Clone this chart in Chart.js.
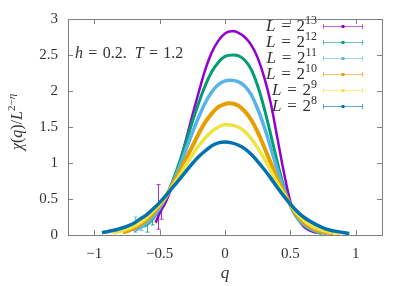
<!DOCTYPE html>
<html>
<head>
<meta charset="utf-8">
<script src="https://cdn.jsdelivr.net/npm/chart.js@4.4.1/dist/chart.umd.min.js"></script>
<style>
  html, body { margin: 0; padding: 0; background: #fff; }
  #caja { width: 411px; height: 286px; }
</style>
</head>
<body>
<div id="caja"><canvas id="grafica" width="411" height="286"></canvas></div>
<script>
// Datos: q y chi(q)/L^(2-eta) para cada tamaño L
const etiquetas = ['13', '12', '11', '10', '9', '8'];
const colores = ['#9400d3', '#009e73', '#56b4e9', '#e69f00', '#f0e442', '#0072b2'];

const qL13 = [-0.53, -0.5, -0.45, -0.4, -0.35, -0.3, -0.25, -0.2, -0.15, -0.1, -0.05, 0, 0.05, 0.07, 0.1, 0.15, 0.2, 0.25, 0.3, 0.35, 0.4, 0.45, 0.5, 0.55, 0.6, 0.65, 0.7];
const chiL13 = [0.17, 0.30, 0.47, 0.70, 0.98, 1.31, 1.66, 1.99, 2.30, 2.54, 2.70, 2.80, 2.83, 2.83, 2.81, 2.75, 2.64, 2.46, 2.19, 1.83, 1.35, 0.87, 0.46, 0.25, 0.12, 0.06, 0.03];

const qL12 = [-0.62, -0.6, -0.55, -0.5, -0.45, -0.4, -0.35, -0.3, -0.25, -0.2, -0.15, -0.1, -0.05, 0, 0.06, 0.1, 0.15, 0.2, 0.25, 0.3, 0.35, 0.4, 0.45, 0.5, 0.55, 0.6, 0.65, 0.7, 0.74];
const chiL12 = [0.12, 0.14, 0.23, 0.36, 0.53, 0.75, 1.00, 1.28, 1.57, 1.84, 2.08, 2.27, 2.40, 2.48, 2.50, 2.49, 2.43, 2.30, 2.07, 1.76, 1.39, 1.01, 0.67, 0.40, 0.24, 0.14, 0.08, 0.04, 0.02];

const qL11 = [-0.7, -0.65, -0.6, -0.55, -0.5, -0.45, -0.4, -0.35, -0.3, -0.25, -0.2, -0.15, -0.1, -0.05, 0, 0.04, 0.1, 0.15, 0.2, 0.25, 0.3, 0.35, 0.4, 0.45, 0.5, 0.55, 0.6, 0.65, 0.7, 0.78];
const chiL11 = [0.06, 0.10, 0.16, 0.25, 0.375, 0.53, 0.72, 0.94, 1.18, 1.42, 1.64, 1.84, 1.99, 2.09, 2.14, 2.15, 2.13, 2.07, 1.95, 1.75, 1.50, 1.21, 0.91, 0.64, 0.41, 0.25, 0.15, 0.09, 0.05, 0.02];

const qL10 = [-0.78, -0.75, -0.7, -0.65, -0.6, -0.55, -0.5, -0.45, -0.4, -0.35, -0.3, -0.25, -0.2, -0.15, -0.1, -0.05, 0, 0.03, 0.1, 0.15, 0.2, 0.25, 0.3, 0.35, 0.4, 0.45, 0.5, 0.55, 0.6, 0.65, 0.7, 0.75, 0.8, 0.83];
const chiL10 = [0.04, 0.05, 0.09, 0.14, 0.21, 0.30, 0.41, 0.54, 0.70, 0.87, 1.05, 1.23, 1.41, 1.57, 1.69, 1.78, 1.82, 1.83, 1.80, 1.72, 1.60, 1.43, 1.22, 1.00, 0.78, 0.59, 0.42, 0.28, 0.18, 0.11, 0.07, 0.04, 0.03, 0.02];

const qL9 = [-0.86, -0.8, -0.75, -0.7, -0.65, -0.6, -0.55, -0.5, -0.45, -0.4, -0.35, -0.3, -0.25, -0.2, -0.15, -0.1, -0.05, 0, 0.02, 0.1, 0.15, 0.2, 0.25, 0.3, 0.35, 0.4, 0.45, 0.5, 0.55, 0.6, 0.65, 0.7, 0.75, 0.8, 0.88];
const chiL9 = [0.03, 0.05, 0.08, 0.12, 0.17, 0.24, 0.33, 0.43, 0.54, 0.68, 0.82, 0.97, 1.11, 1.24, 1.35, 1.44, 1.50, 1.53, 1.53, 1.50, 1.44, 1.34, 1.21, 1.06, 0.89, 0.72, 0.57, 0.42, 0.30, 0.21, 0.14, 0.09, 0.06, 0.04, 0.02];

const qL8 = [-0.94, -0.9, -0.85, -0.8, -0.75, -0.7, -0.65, -0.6, -0.55, -0.5, -0.45, -0.4, -0.35, -0.3, -0.25, -0.2, -0.15, -0.1, -0.05, 0, 0.05, 0.1, 0.15, 0.2, 0.25, 0.3, 0.35, 0.4, 0.45, 0.5, 0.55, 0.6, 0.65, 0.7, 0.75, 0.8, 0.85, 0.9, 0.95];
const chiL8 = [0.035, 0.045, 0.065, 0.09, 0.12, 0.16, 0.22, 0.28, 0.36, 0.45, 0.55, 0.66, 0.77, 0.88, 0.99, 1.09, 1.17, 1.24, 1.28, 1.29, 1.28, 1.25, 1.20, 1.12, 1.02, 0.91, 0.79, 0.66, 0.54, 0.43, 0.33, 0.25, 0.19, 0.14, 0.10, 0.07, 0.05, 0.035, 0.02];

// Barras de error visibles en la cola izquierda (serie, q, mínimo, máximo)
const errSerie = [0, 0, 1, 1, 2, 2];
const errQ = [-0.515, -0.49, -0.6, -0.56, -0.69, -0.64];
const errMin = [0.08, 0.22, 0.04, 0.14, 0.04, 0.06];
const errMax = [0.70, 0.40, 0.28, 0.30, 0.25, 0.16];

const ticksX = [-1, -0.5, 0, 0.5, 1];
const ticksY = [0, 0.5, 1, 1.5, 2, 2.5, 3];

const seriesQ = [qL13, qL12, qL11, qL10, qL9, qL8];
const seriesChi = [chiL13, chiL12, chiL11, chiL10, chiL9, chiL8];
const grosores = [2.5, 3, 3.5, 4, 3.5, 3.5];

const FUENTE = '"Liberation Serif", "DejaVu Serif", serif';
const GRIS = '#333';
const IGUAL = '\u2004=\u2004';

function aPuntos(qs, ys) {
  return qs.map((q, i) => ({ x: q, y: ys[i] }));
}

const datasets = etiquetas.map((e, i) => ({
  label: 'L = 2^' + e,
  data: aPuntos(seriesQ[i], seriesChi[i]),
  borderColor: colores[i],
  backgroundColor: colores[i],
  borderWidth: grosores[i],
  pointRadius: 0,
  cubicInterpolationMode: 'monotone',
  fill: false,
  order: 5 - i   // L = 2^8 queda encima, como en gnuplot
}));

function menos(v) {
  return String(v).replace('-', '\u2212');
}

// Texto con partes en cursiva y superíndices
function textoRico(ctx, partes, x, y, alinear, tam) {
  const tamSup = Math.round(tam * 0.7);
  let ancho = 0;
  partes.forEach(p => {
    ctx.font = (p.it ? 'italic ' : '') + (p.sup ? tamSup : tam) + 'px ' + FUENTE;
    p.w = ctx.measureText(p.t).width;
    ancho += p.w;
  });
  let cx = alinear === 'right' ? x - ancho : alinear === 'center' ? x - ancho / 2 : x;
  ctx.textBaseline = 'alphabetic';
  ctx.textAlign = 'left';
  partes.forEach(p => {
    ctx.font = (p.it ? 'italic ' : '') + (p.sup ? tamSup : tam) + 'px ' + FUENTE;
    ctx.fillText(p.t, cx, p.sup ? y - tam * 0.42 : y);
    cx += p.w;
  });
}

const decoracion = {
  id: 'decoracion',
  beforeDatasetsDraw(chart) {
    // barras de error debajo de las curvas
    const ctx = chart.ctx;
    const sx = chart.scales.x, sy = chart.scales.y;
    ctx.save();
    ctx.lineWidth = 1;
    errQ.forEach((q, i) => {
      const px = Math.round(sx.getPixelForValue(q)) + 0.5;
      const y1 = sy.getPixelForValue(errMin[i]);
      const y2 = sy.getPixelForValue(errMax[i]);
      ctx.strokeStyle = colores[errSerie[i]];
      ctx.globalAlpha = 0.8;
      ctx.beginPath();
      ctx.moveTo(px, y1); ctx.lineTo(px, y2);
      ctx.moveTo(px - 2, y1); ctx.lineTo(px + 2, y1);
      ctx.moveTo(px - 2, y2); ctx.lineTo(px + 2, y2);
      ctx.stroke();
    });
    ctx.restore();
  },
  afterDraw(chart) {
    const ctx = chart.ctx;
    const a = chart.chartArea;
    const sx = chart.scales.x, sy = chart.scales.y;
    ctx.save();

    // Marco y marcas hacia dentro en los cuatro lados
    ctx.strokeStyle = '#808080';
    ctx.lineWidth = 1;
    ctx.strokeRect(Math.round(a.left) + 0.5, Math.round(a.top) + 0.5, Math.round(a.right - a.left), Math.round(a.bottom - a.top));
    ctx.beginPath();
    ticksX.forEach(t => {
      const px = Math.round(sx.getPixelForValue(t)) + 0.5;
      ctx.moveTo(px, a.bottom); ctx.lineTo(px, a.bottom - 5);
      ctx.moveTo(px, a.top); ctx.lineTo(px, a.top + 5);
    });
    ticksY.forEach(t => {
      const py = Math.round(sy.getPixelForValue(t)) + 0.5;
      ctx.moveTo(a.left, py); ctx.lineTo(a.left + 5, py);
      ctx.moveTo(a.right, py); ctx.lineTo(a.right - 5, py);
    });
    ctx.stroke();

    ctx.fillStyle = GRIS;
    // Anotación
    textoRico(ctx, [{ t: 'h', it: true }, { t: IGUAL + '0.2.\u2002' }, { t: 'T', it: true }, { t: IGUAL + '1.2' }], 75, 58, 'left', 16);

    // Título eje x
    textoRico(ctx, [{ t: 'q', it: true }], (a.left + a.right) / 2, 278, 'center', 17);

    // Título eje y (rotado)
    ctx.save();
    ctx.translate(22, 122);
    ctx.rotate(-Math.PI / 2);
    textoRico(ctx, [{ t: '\u03c7', it: true }, { t: '(' }, { t: 'q', it: true }, { t: ')/' }, { t: 'L', it: true },
                    { t: '2\u2212', sup: true }, { t: '\u03b7', it: true, sup: true }], 0, 0, 'center', 16);
    ctx.restore();

    // Leyenda
    const filas = [26, 42, 58, 74, 90, 106];
    etiquetas.forEach((e, i) => {
      const y = filas[i];
      ctx.fillStyle = GRIS;
      textoRico(ctx, [{ t: 'L', it: true }, { t: IGUAL + '2' }, { t: e, sup: true }], 317, y + 5, 'right', 17);
      ctx.strokeStyle = colores[i];
      ctx.globalAlpha = 0.6;
      ctx.lineWidth = 1;
      ctx.beginPath();
      ctx.moveTo(323, y + 0.5); ctx.lineTo(363, y + 0.5);
      ctx.moveTo(323.5, y - 2); ctx.lineTo(323.5, y + 3);
      ctx.moveTo(362.5, y - 2); ctx.lineTo(362.5, y + 3);
      ctx.stroke();
      ctx.globalAlpha = 1;
      ctx.fillStyle = colores[i];
      ctx.fillRect(341.5, y - 1, 3, 3);
    });
    ctx.restore();
  }
};

const grafica = new Chart(document.getElementById('grafica').getContext('2d'), {
  type: 'line',
  data: { datasets: datasets },
  options: {
    responsive: false,
    animation: false,
    devicePixelRatio: 1,
    layout: { padding: { top: 15, right: 29, left: 0, bottom: 0 } },
    plugins: {
      legend: { display: false },
      tooltip: { enabled: false }
    },
    scales: {
      x: {
        type: 'linear',
        min: -1.2,
        max: 1.2,
        afterFit: s => { s.height = 51; },
        afterBuildTicks: s => { s.ticks = ticksX.map(v => ({ value: v })); },
        grid: { display: false, drawTicks: false },
        border: { display: false },
        ticks: {
          callback: v => menos(v),
          color: GRIS,
          font: { family: FUENTE, size: 15 },
          padding: 10,
          maxRotation: 0
        }
      },
      y: {
        type: 'linear',
        min: 0,
        max: 3,
        afterFit: s => { s.width = 68; },
        afterBuildTicks: s => { s.ticks = ticksY.map(v => ({ value: v })); },
        grid: { display: false, drawTicks: false },
        border: { display: false },
        ticks: {
          callback: v => menos(v),
          color: GRIS,
          font: { family: FUENTE, size: 15 },
          padding: 10
        }
      }
    }
  },
  plugins: [decoracion]
});
</script>
</body>
</html>
